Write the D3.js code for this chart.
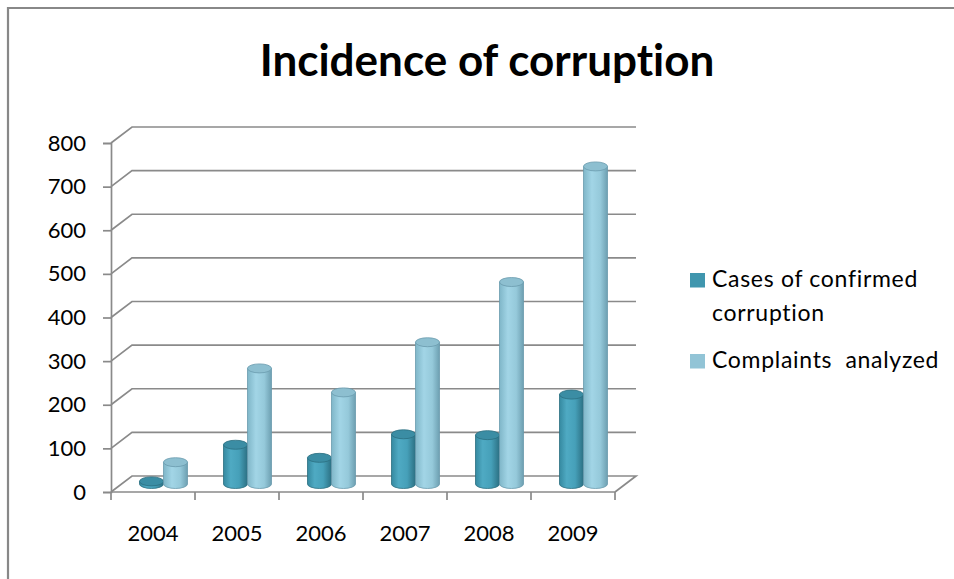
<!DOCTYPE html>
<html>
<head>
<meta charset="utf-8">
<script src="https://cdn.jsdelivr.net/npm/d3@7"></script>
<style>
  body { margin: 0; background: #fff; }
  svg { display: block; font-family: Lato, "Open Sans", sans-serif; font-variant-ligatures: none; }
</style>
</head>
<body>
<svg id="chart"></svg>
<script>
const years = ["2004", "2005", "2006", "2007", "2008", "2009"];
const seriesNames = ["Cases of confirmed corruption", "Complaints  analyzed"];
const casesConfirmed = [6, 90, 60, 114, 112, 205];
const complaintsAnalyzed = [50, 265, 210, 325, 463, 728];
const yTicks = [0, 100, 200, 300, 400, 500, 600, 700, 800];
const legendLines = [["Cases of confirmed", "corruption"], ["Complaints  analyzed"]];

const W = 954, H = 579;
const plotLeft = 111, plotRight = 615, plotBottom = 492, plotTop = 143;
const depthX = 21, depthY = -16;   // oblique offset of the back wall
const gridColor = "#8a8a8a";

const svg = d3.select("#chart").attr("width", W).attr("height", H);

// outer frame (only top + left edges visible)
svg.append("path")
    .attr("d", `M8,${H} L8,8 L${W},8`)
    .attr("fill", "none")
    .attr("stroke", "#888")
    .attr("stroke-width", 2.2);

svg.append("text")
    .attr("x", 487).attr("y", 76)
    .attr("text-anchor", "middle")
    .attr("font-weight", "bold")
    .attr("font-size", 44)
    .text("Incidence of corruption");

const y = d3.scaleLinear().domain([0, 800]).range([plotBottom, plotTop]);
const x = d3.scaleBand().domain(years).range([plotLeft, plotRight]);
const series = [
    { name: seriesNames[0], values: casesConfirmed, id: "dark" },
    { name: seriesNames[1], values: complaintsAnalyzed, id: "light" }
];
const xs = d3.scaleBand().domain(series.map(s => s.id)).range([-24, 24]);

// gradients for the cylinders
const defs = svg.append("defs");
const gradStops = {
    dark: [["0%", "#3589a0"], ["30%", "#4faac3"], ["65%", "#46a0b9"], ["100%", "#2c7083"]],
    light: [["0%", "#7fb6c8"], ["35%", "#a2d5e6"], ["70%", "#95c9da"], ["100%", "#6d9fb1"]]
};
Object.entries(gradStops).forEach(([k, stops]) => {
    const g = defs.append("linearGradient").attr("id", "g-" + k)
        .attr("x1", "0%").attr("x2", "100%").attr("y1", "0%").attr("y2", "0%");
    stops.forEach(s => g.append("stop").attr("offset", s[0]).attr("stop-color", s[1]));
});
const topFill = { dark: "#3b8da4", light: "#8dbfd0" };
const edgeColor = { dark: "#2b6e80", light: "#6a9bad" };
const legendColor = { dark: "#4096ae", light: "#92c4d6" };

// back wall + side wall gridlines
const grid = svg.append("g").attr("fill", "none").attr("stroke", gridColor).attr("stroke-width", 1.7);
yTicks.forEach(t => {
    if (t === 0) return;
    grid.append("path")
        .attr("d", `M${plotLeft},${y(t)} L${plotLeft + depthX},${y(t) + depthY} L${plotRight + depthX},${y(t) + depthY}`);
});

// floor
grid.append("path")
    .attr("d", `M${plotLeft},${y(0)} L${plotLeft + depthX},${y(0) + depthY} L${plotRight + depthX},${y(0) + depthY} L${plotRight},${y(0)}`);

// y axis
const yAxis = svg.append("g")
    .attr("transform", `translate(${plotLeft},0)`)
    .call(d3.axisLeft(y).tickValues(yTicks).tickSize(8).tickPadding(17).tickFormat(d3.format("d")));
yAxis.select(".domain").attr("stroke", gridColor).attr("stroke-width", 1.7);
yAxis.selectAll(".tick line").attr("stroke", gridColor).attr("stroke-width", 1.7);
yAxis.selectAll(".tick text").attr("font-size", 22).attr("fill", "#000")
    .attr("font-family", "Lato, 'Open Sans', sans-serif");

// x axis (ticks at band boundaries)
const xAxis = svg.append("g")
    .attr("transform", `translate(0,${plotBottom})`);
xAxis.append("line")
    .attr("x1", plotLeft).attr("x2", plotRight)
    .attr("stroke", gridColor).attr("stroke-width", 1.7);
const bounds = years.map(d => x(d)).concat([plotRight]);
xAxis.selectAll(".xtick").data(bounds).enter().append("line")
    .attr("x1", d => d).attr("x2", d => d)
    .attr("y1", 0).attr("y2", 8)
    .attr("stroke", gridColor).attr("stroke-width", 1.7);
xAxis.selectAll(".xlabel").data(years).enter().append("text")
    .attr("x", d => x(d) + x.bandwidth() / 2)
    .attr("y", 49)
    .attr("text-anchor", "middle")
    .attr("font-size", 22)
    .text(d => d);

// cylinders, placed at mid depth
const midX = depthX / 2, midY = depthY / 2;
const ry = 4.5;
const bars = svg.append("g");
years.forEach((yr, i) => {
    series.forEach(s => {
        const x0 = x(yr) + x.bandwidth() / 2 + xs(s.id) + midX;
        const w = xs.bandwidth();
        const rx = w / 2;
        const yb = y(0) + midY;
        const yt = y(s.values[i]) + midY;
        bars.append("path")
            .attr("d", `M${x0},${yt} L${x0},${yb} A${rx},${ry} 0 0 0 ${x0 + w},${yb} L${x0 + w},${yt} Z`)
            .attr("fill", `url(#g-${s.id})`)
            .attr("stroke", edgeColor[s.id])
            .attr("stroke-width", 0.8);
        bars.append("ellipse")
            .attr("cx", x0 + rx).attr("cy", yt)
            .attr("rx", rx).attr("ry", ry)
            .attr("fill", topFill[s.id])
            .attr("stroke", edgeColor[s.id])
            .attr("stroke-width", 0.8);
    });
});

// legend
const legend = svg.append("g").attr("transform", "translate(690,273)");
series.forEach((s, i) => {
    const gy = i * 81;
    legend.append("rect")
        .attr("x", 0).attr("y", gy)
        .attr("width", 15).attr("height", 14.5)
        .attr("fill", legendColor[s.id]);
    legendLines[i].forEach((line, j) => {
        legend.append("text")
            .attr("x", 22).attr("y", gy + 14 + j * 33.7)
            .attr("font-size", 23)
            .attr("letter-spacing", 0.7)
            .style("white-space", "pre")
            .text(line);
    });
});
</script>
</body>
</html>
